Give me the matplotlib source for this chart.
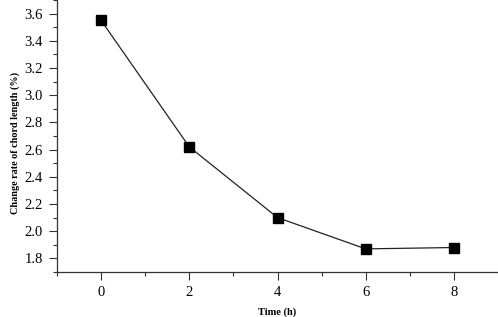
import matplotlib
matplotlib.use('Agg')
import matplotlib.pyplot as plt
from matplotlib.ticker import MultipleLocator

# data
time_h = [0, 2, 4, 6, 8]
chord_change = [3.55, 2.62, 2.10, 1.87, 1.88]

plt.rcParams['font.family'] = ['Liberation Serif', 'DejaVu Serif']

fig = plt.figure(figsize=(4.98, 3.17), dpi=100)
ax = fig.add_axes([57 / 498, 45 / 317, 1 - 57 / 498, 1 - 45 / 317])

ax.plot(time_h, chord_change, color='#222222', linewidth=0.9,
        marker='s', markersize=6.5, markerfacecolor='black', markeredgecolor='black')

ax.set_xlim(-1, 9)
ax.set_ylim(1.7, 3.7)
ax.xaxis.set_major_locator(MultipleLocator(2))
ax.xaxis.set_minor_locator(MultipleLocator(1))
ax.yaxis.set_major_locator(MultipleLocator(0.2))
ax.yaxis.set_minor_locator(MultipleLocator(0.1))
ax.yaxis.set_major_formatter(plt.FormatStrFormatter('%.1f'))

for side in ['top', 'right']:
    ax.spines[side].set_visible(False)
for side in ['left', 'bottom']:
    ax.spines[side].set_linewidth(0.9)
    ax.spines[side].set_color('#333333')

ax.tick_params(which='major', direction='out', length=6, width=0.8, labelsize=10.5, colors='#333333', pad=4)
ax.tick_params(which='minor', direction='out', length=3, width=0.8, colors='#333333')
ax.tick_params(labelcolor='black')

ax.set_xlabel('Time (h)', fontsize=7.5, fontweight='bold', labelpad=6)
ax.set_ylabel('Change rate of chord length (%)', fontsize=7.3, fontweight='bold')
ax.yaxis.set_label_coords(-0.084, 0.474)

fig.savefig('out.png', dpi=100)
